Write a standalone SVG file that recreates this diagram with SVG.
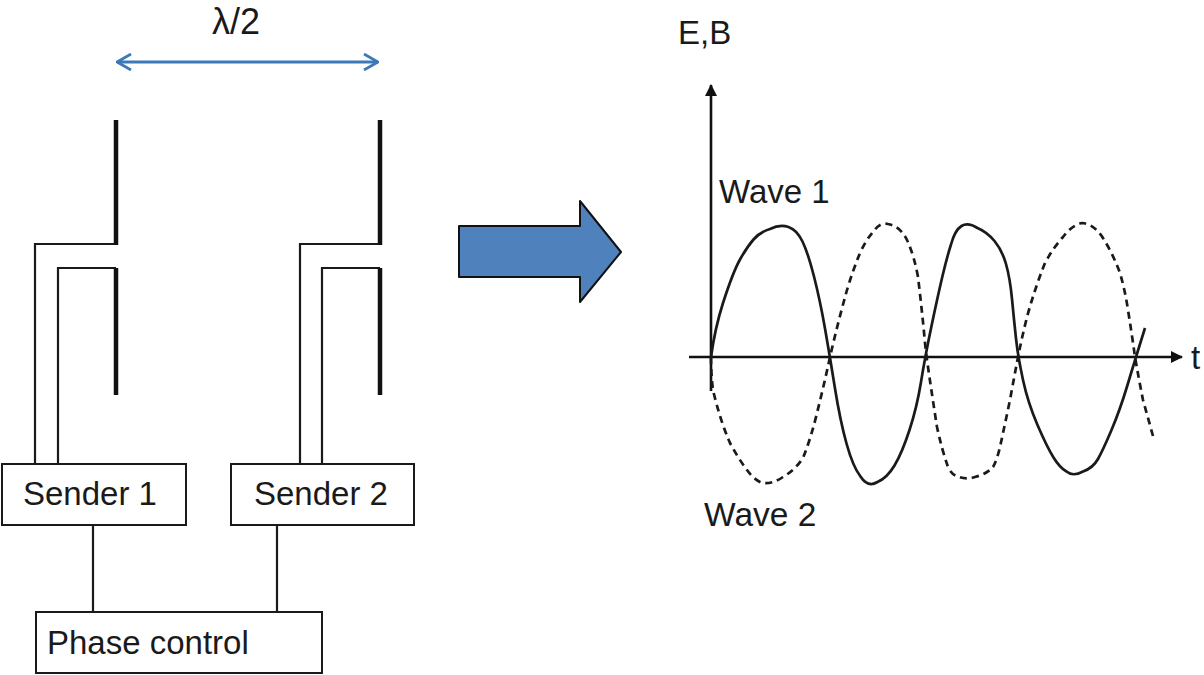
<svg xmlns="http://www.w3.org/2000/svg" width="1204" height="675" viewBox="0 0 1204 675">
<style>
text{font-family:"Liberation Sans",Arial,sans-serif;font-size:33px;fill:#1a1a1a}
.box{fill:#fff;stroke:#1a1a1a;stroke-width:2}
.wire{fill:none;stroke:#1a1a1a;stroke-width:2.2}
.rod{fill:none;stroke:#111;stroke-width:4.5}
.wave{fill:none;stroke:#1a1a1a;stroke-width:2.7;stroke-linejoin:round}
.dash{stroke-dasharray:7 5}
.axis{fill:none;stroke:#111;stroke-width:2.6}
</style>
<defs>
<marker id="ah" viewBox="0 0 12 12" refX="11" refY="6" markerWidth="12" markerHeight="12" markerUnits="userSpaceOnUse" orient="auto"><path d="M0,0L12,6L0,12Z" fill="#111"/></marker>
<marker id="open" viewBox="0 0 16 18" refX="15" refY="9" markerWidth="16" markerHeight="18" markerUnits="userSpaceOnUse" orient="auto-start-reverse"><path d="M1,1L15,9L1,17" fill="none" stroke="#3d78b9" stroke-width="2.8"/></marker>
</defs>
<g id="connectors">
<path class="wire" d="M35,464V244H116"/>
<path class="wire" d="M58,464V268H116"/>
<path class="wire" d="M300,464V244H380"/>
<path class="wire" d="M322,464V268H380"/>
<path class="wire" d="M93,525V612"/>
<path class="wire" d="M277,525V612"/>
<path d="M117,62H378" fill="none" stroke="#3d78b9" stroke-width="2.8" marker-start="url(#open)" marker-end="url(#open)"/>
</g>
<g id="dipole-1"><path class="rod" d="M116,120V245"/><path class="rod" d="M116,268V395"/></g>
<g id="dipole-2"><path class="rod" d="M380,120V245"/><path class="rod" d="M380,268V395"/></g>
<g id="sender-1"><rect class="box" x="2" y="464" width="184" height="61"/><text x="23" y="505">Sender 1</text></g>
<g id="sender-2"><rect class="box" x="231" y="464" width="183" height="61"/><text x="254" y="505">Sender 2</text></g>
<g id="phase-control"><rect class="box" x="36" y="612" width="286" height="61"/><text x="47" y="654">Phase control</text></g>
<g id="lambda-label"><text x="212" y="34" style="font-size:36px">λ/2</text></g>
<g id="big-arrow"><path d="M459,226H580V201L621,252L580,302V277H459Z" fill="#4f81bd" stroke="#111" stroke-width="2" stroke-linejoin="round"/></g>
<g id="chart">
<path class="axis" d="M711,391V85" marker-end="url(#ah)"/>
<path class="axis" d="M689,357H1182" marker-end="url(#ah)"/>
<path class="wave" d="M711,357Q715,328 723,303Q733,272 740,259.5Q747,247 753.5,239.5Q760,232 770,229Q780,224 788.5,227Q797,230 802.5,241.5Q808,253 814,276.5Q820,300 825,328.5Q830,357 835,388.5Q840,420 846.5,443.5Q853,467 860.5,476.5Q868,488 877.5,482Q887,478 894.5,465.5Q902,453 909.5,430Q917,407 921,382Q925,357 931.5,326Q938,295 942.5,276Q947,257 951,244.5Q955,230 961.5,226Q968,222 977.5,228Q987,232 994.5,241Q1002,250 1006,264Q1010,278 1012,299Q1014,320 1016,338.5Q1018,357 1023,380Q1028,403 1037.5,425Q1047,447 1053.5,457.5Q1060,468 1066.5,471.5Q1073,477 1083,471.5Q1093,468 1098,459Q1103,450 1111.5,430Q1120,410 1127.5,385Q1135,360 1145,328"/>
<path class="wave dash" d="M711,357Q711,375 713,390Q720,420 730,443Q738,458 747,470Q755,481 763,483Q773,484 783,477Q795,470 803,458Q811,438 817,413Q824,385 830,357Q838,322 847,290Q853,270 860,253Q866,240 873,232Q880,222 888,224Q900,226 907,240Q914,255 918,277Q922,310 925,343Q926,352 927,360Q932,395 937,427Q942,450 948,467Q952,475 957,476Q965,480 975,477Q987,474 993,467Q997,460 1000,447Q1005,424 1010,400Q1014,378 1018,357Q1022,337 1027,317Q1035,288 1045,263Q1053,248 1063,237Q1072,225 1082,223Q1094,224 1103,238Q1113,254 1120,273Q1125,290 1128,310Q1132,335 1135,357Q1139,380 1143,400L1153,436"/>
<text x="719" y="203">Wave 1</text>
<text x="704" y="526" style="font-size:33.5px">Wave 2</text>
<text x="678" y="44">E,B</text>
<text x="1191" y="369">t</text>
</g>
</svg>
